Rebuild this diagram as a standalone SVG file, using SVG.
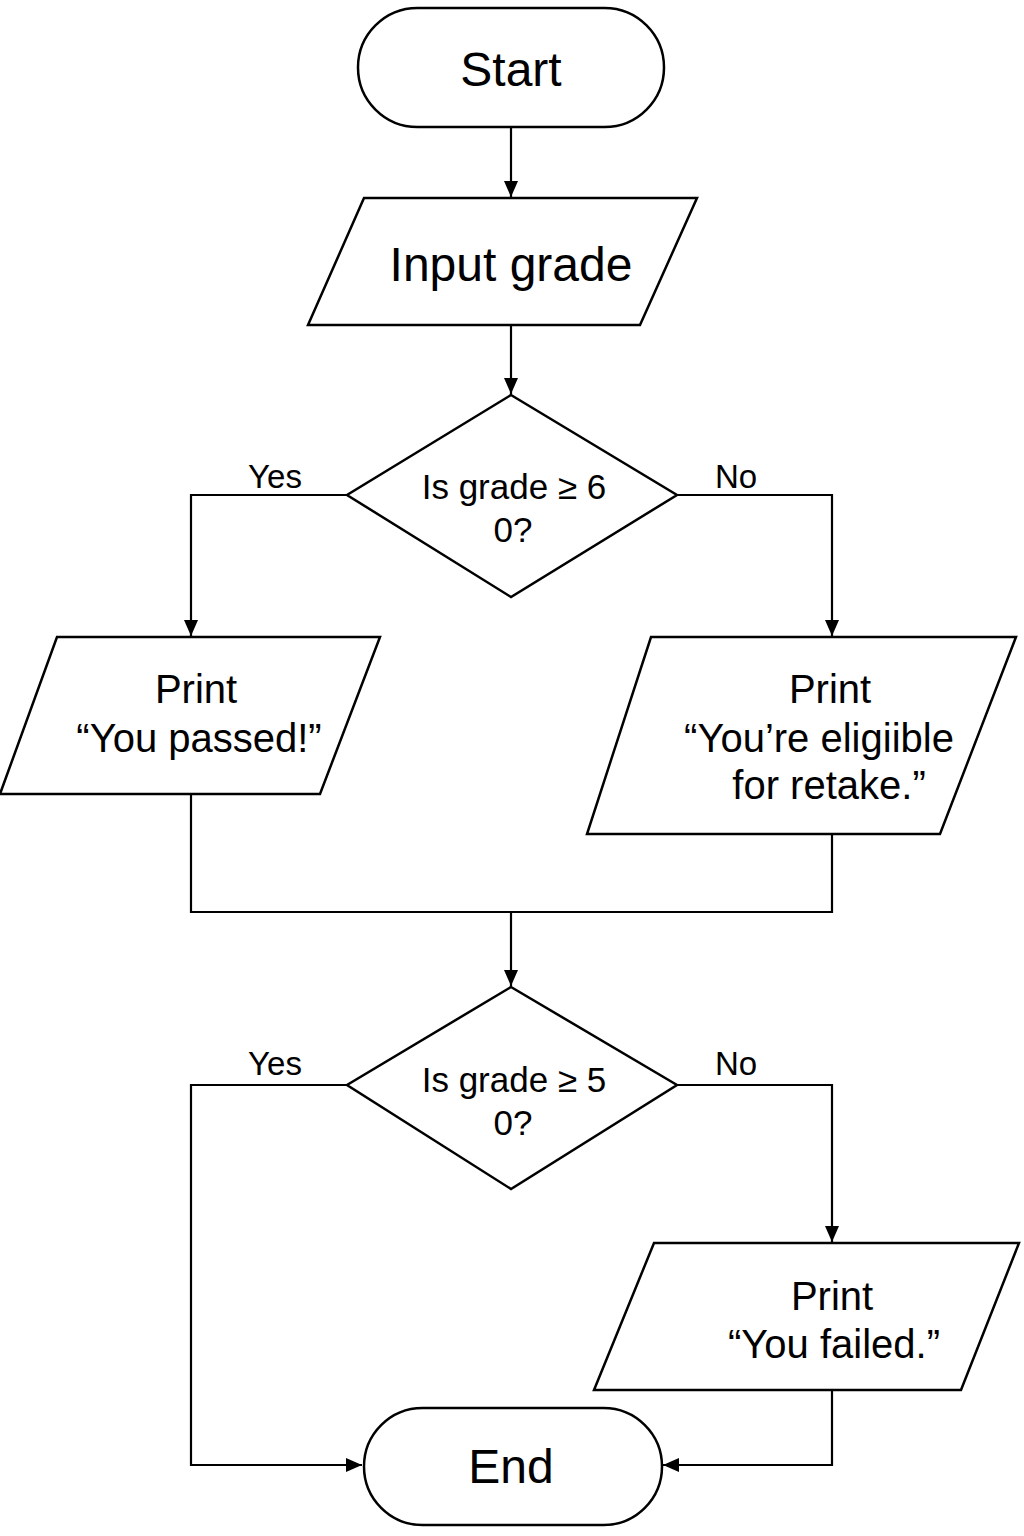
<svg xmlns="http://www.w3.org/2000/svg" width="1024" height="1536" viewBox="0 0 1024 1536">
<style>
.shape{fill:#fff;stroke:#000;stroke-width:2.5}
.line{fill:none;stroke:#000;stroke-width:2.2}
text{font-family:"Liberation Sans",Arial,sans-serif;fill:#000;text-anchor:middle}
.big{font-size:48px}
.mid{font-size:40px}
.dia{font-size:35px}
.lbl{font-size:33px}
</style>
<defs>
<marker id="arr" viewBox="0 0 16 14" refX="16" refY="7" markerWidth="16" markerHeight="14" markerUnits="userSpaceOnUse" orient="auto">
<path d="M0,0 L16,7 L0,14 z" fill="#000"/>
</marker>
</defs>
<rect width="1024" height="1536" fill="#fff"/>
<g id="connectors">
<path class="line" d="M511,128 V197" marker-end="url(#arr)"/>
<path class="line" d="M511,325 V394" marker-end="url(#arr)"/>
<path class="line" d="M347,495 H191 V636" marker-end="url(#arr)"/>
<path class="line" d="M677,495 H832 V636" marker-end="url(#arr)"/>
<path class="line" d="M191,794 V912 H832 V834"/>
<path class="line" d="M511,912 V986" marker-end="url(#arr)"/>
<path class="line" d="M347,1085 H191 V1465 H362" marker-end="url(#arr)"/>
<path class="line" d="M677,1085 H832 V1242" marker-end="url(#arr)"/>
<path class="line" d="M832,1390 V1465 H663" marker-end="url(#arr)"/>
<text class="lbl" x="275" y="488">Yes</text>
<text class="lbl" x="736" y="488">No</text>
<text class="lbl" x="275" y="1075">Yes</text>
<text class="lbl" x="736" y="1075">No</text>
</g>
<g id="start">
<rect class="shape" x="358" y="8" width="306" height="119" rx="59.5"/>
<text class="big" x="511" y="86">Start</text>
</g>
<g id="input">
<polygon class="shape" points="364,198 697,198 640,325 308,325"/>
<text class="big" x="511" y="281">Input grade</text>
</g>
<g id="decision1">
<polygon class="shape" points="511,395 677,495 511,597 347,495"/>
<text class="dia" x="514" y="499">Is grade ≥ 6</text>
<text class="dia" x="513" y="542">0?</text>
</g>
<g id="passed">
<polygon class="shape" points="57,637 380,637 320,794 0,794"/>
<text class="mid" x="196" y="703">Print</text>
<text class="mid" x="199" y="752">“You passed!”</text>
</g>
<g id="retake">
<polygon class="shape" points="651,637 1016,637 940,834 587,834"/>
<text class="mid" x="830" y="703">Print</text>
<text class="mid" x="819" y="752">“You’re eligiible</text>
<text class="mid" x="829" y="799">for retake.”</text>
</g>
<g id="decision2">
<polygon class="shape" points="511,987 677,1085 511,1189 347,1085"/>
<text class="dia" x="514" y="1092">Is grade ≥ 5</text>
<text class="dia" x="513" y="1135">0?</text>
</g>
<g id="failed">
<polygon class="shape" points="654,1243 1019,1243 961,1390 594,1390"/>
<text class="mid" x="832" y="1310">Print</text>
<text class="mid" x="834" y="1358">“You failed.”</text>
</g>
<g id="end">
<rect class="shape" x="364" y="1408" width="298" height="117" rx="58.5"/>
<text class="big" x="511" y="1483">End</text>
</g>
</svg>
